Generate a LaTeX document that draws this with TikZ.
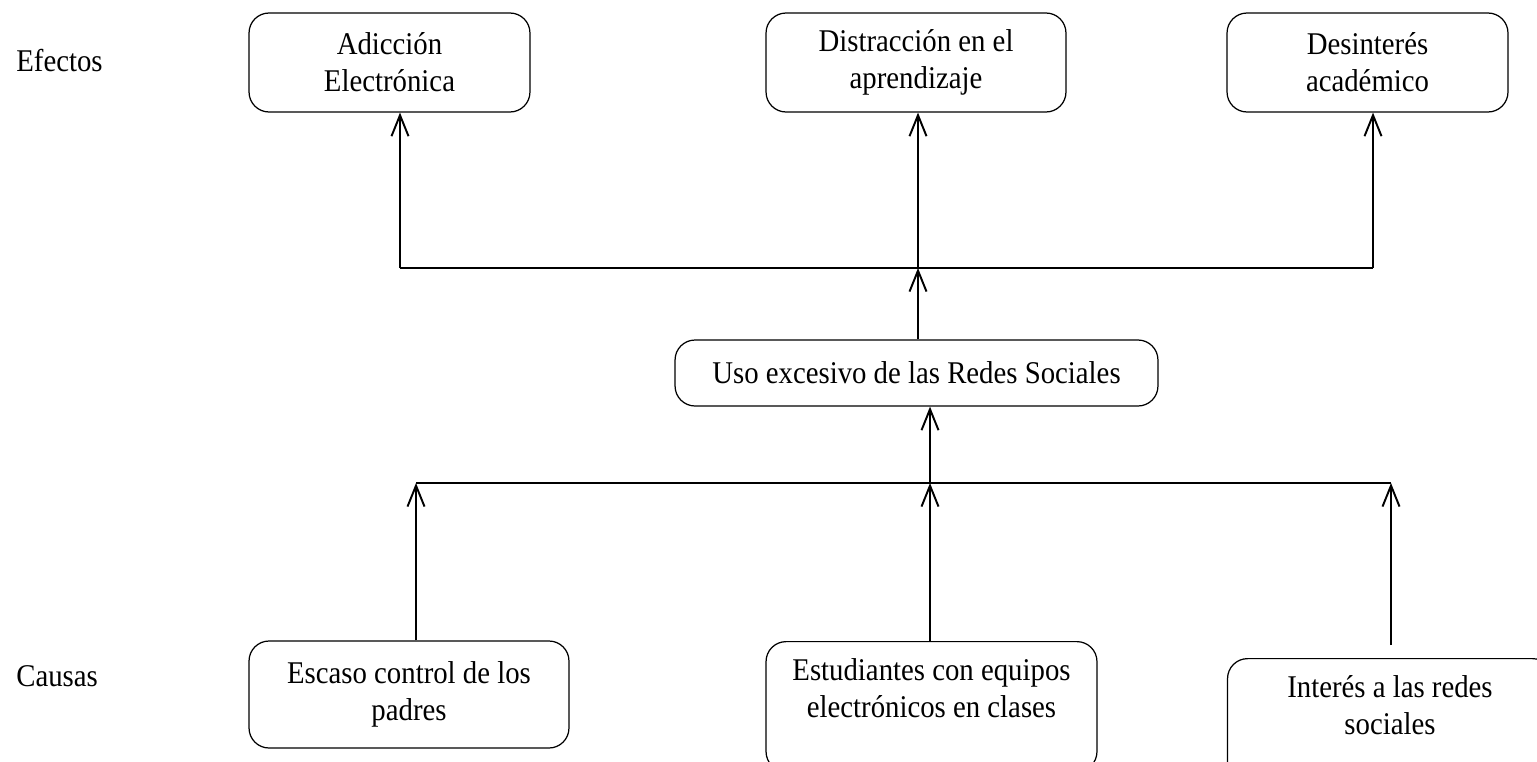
\documentclass[tikz,border=0pt]{standalone}
\usepackage{fontspec}
\setmainfont[FakeStretch=0.91]{Liberation Serif}
\usetikzlibrary{arrows.meta}
\tikzset{
  causebox/.style={draw, line width=0.7pt, rounded corners=0.4cm, align=center, inner sep=0pt,
    font=\fontsize{18pt}{20.9pt}\selectfont},
  tag/.style={anchor=west, inner sep=0pt, font=\fontsize{18pt}{20.9pt}\selectfont},
  link/.style={line width=1.1pt},
  uparrow/.style={line width=1.1pt, -{Straight Barb[length=0.42cm,width=0.34cm,line width=1.1pt]}}
}

\begin{document}
\begin{tikzpicture}[x=0.02cm, y=-0.02cm]
			%%%%% START %%%%%
			\clip (0, 0) rectangle (1537, 761);
			
			\node[tag, anchor=base west] (efectos) at (16, 71) {Efectos};
			\node[tag, anchor=base west] (causas) at (16, 686) {Causas};
			
			% efectos
			\node[causebox, minimum width=5.62cm, minimum height=1.98cm] (adiccion) at (389.5, 62.5) {Adicción\\Electrónica};
			\node[causebox, minimum width=6.0cm, minimum height=1.98cm] (distraccion) at (916, 62.5) {Distracción en el\\aprendizaje};
			\node[causebox, minimum width=5.62cm, minimum height=1.98cm] (desinteres) at (1367.5, 62.5) {Desinterés\\académico};
			
			% problema
			\node[causebox, minimum width=9.66cm, minimum height=1.32cm] (uso) at (916.5, 373) {Uso excesivo de las Redes Sociales};
			
			% causas
			\node[causebox, minimum width=6.4cm, minimum height=2.14cm] (escaso) at (409, 694.5) {Escaso control de los\\padres};
			\node[causebox, minimum width=6.62cm, minimum height=2.6cm, anchor=north] (estudiantes) at (931.5, 641) {Estudiantes con equipos\\electrónicos en clases\\\mbox{}};
			\node[causebox, minimum width=6.5cm, minimum height=2.6cm, anchor=north] (interes) at (1390, 658) {Interés a las redes\\sociales\\\mbox{}};
			
			\coordinate (ltop) at (400, 268);
			\coordinate (ctop) at (918, 268);
			\coordinate (rtop) at (1373, 268);
			\coordinate (lbot) at (416, 483);
			\coordinate (cbot) at (930, 483);
			\coordinate (rbot) at (1391, 483);
			\coordinate (iend) at (1391, 645);
			
			\draw[link] (ltop) -- (rtop);
			\draw[uparrow] (ltop) -- (ltop |- adiccion.south);
			\draw[uparrow] (ctop) -- (ctop |- distraccion.south);
			\draw[uparrow] (rtop) -- (rtop |- desinteres.south);
			\draw[uparrow] (ctop |- uso.north) -- (ctop);
			
			\draw[link] (lbot) -- (rbot);
			\draw[uparrow] (cbot) -- (cbot |- uso.south);
			\draw[uparrow] (lbot |- escaso.north) -- (lbot);
			\draw[uparrow] (cbot |- estudiantes.north) -- (cbot);
			\draw[uparrow] (iend) -- (rbot);
			%%%%% END %%%%%
\end{tikzpicture}
\end{document}
